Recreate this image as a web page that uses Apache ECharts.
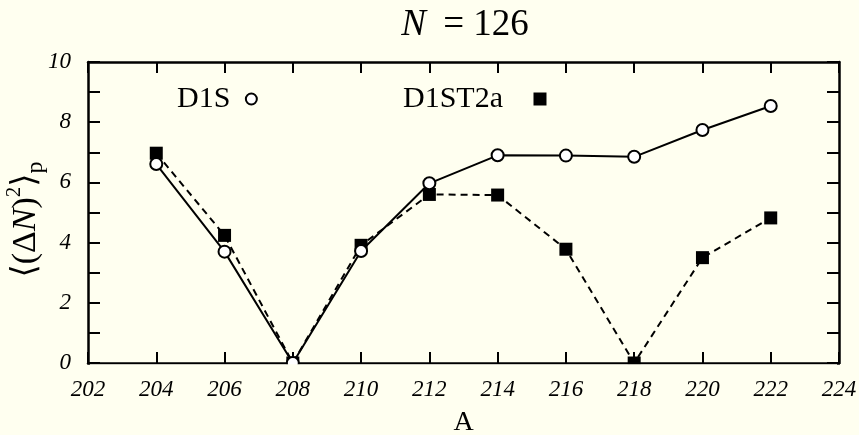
<!DOCTYPE html>
<html>
<head>
<meta charset="utf-8">
<script src="https://cdn.jsdelivr.net/npm/echarts@6/dist/echarts.min.js"></script>
<style>
  html, body { margin: 0; padding: 0; background: #fffff0; }
  #chart { width: 859px; height: 435px; }
</style>
</head>
<body>
<div id="chart"></div>
<script>
// Proton-number fluctuation along the N = 126 isotone chain
const massNumbers   = [204, 206, 208, 210, 212, 214, 216, 218, 220, 222];
const d1sValues     = [6.61, 3.70, 0.00, 3.72, 5.97, 6.90, 6.89, 6.85, 7.74, 8.54];
const d1st2aValues  = [6.97, 4.24, 0.00, 3.91, 5.60, 5.58, 3.78, 0.00, 3.50, 4.82];
const xRange = [202, 224];
const xStep  = 2;
const yRange = [0, 10];
const yStep  = 2;

const SERIF = "'Liberation Serif', 'DejaVu Serif', serif";
const BG = '#fffff0';
const INK = '#000';

const pairs = (xs, ys) => xs.map((x, i) => [x, ys[i]]);

const chart = echarts.init(document.getElementById('chart'), null, { renderer: 'canvas' });

const frameLine = { show: true, onZero: false, lineStyle: { color: INK, width: 2.5 } };
const tickStyle = { color: INK, width: 2 };

const option = {
  backgroundColor: BG,
  animation: false,
  title: {
    text: '{i|N}{t| = 126}',
    left: 460, textAlign: 'center',
    top: 2,
    textStyle: {
      fontWeight: 'normal',
      rich: {
        i: { fontFamily: SERIF, fontStyle: 'italic', fontWeight: 'normal', fontSize: 37, color: INK, padding: [0, 8, 0, 0] },
        t: { fontFamily: SERIF, fontWeight: 'normal', fontSize: 37, color: INK }
      }
    }
  },
  legend: [
    {
      data: ['D1S'],
      left: 172, top: 79,
      align: 'right',
      icon: 'circle',
      itemWidth: 32, itemHeight: 11,
      itemStyle: { color: '#fff', borderColor: INK, borderWidth: 2 },
      textStyle: { fontFamily: SERIF, fontSize: 30, color: INK },
      selectedMode: false
    },
    {
      data: ['D1ST2a'],
      left: 398, top: 79,
      align: 'right',
      icon: 'path://M0,0L10,0L10,10L0,10Z',
      itemWidth: 64, itemHeight: 13,
      itemStyle: { color: INK, borderWidth: 0 },
      textStyle: { fontFamily: SERIF, fontSize: 30, color: INK },
      selectedMode: false
    }
  ],
  grid: { left: 88, right: 20, top: 62, bottom: 72, containLabel: false, outerBoundsMode: 'none' },
  xAxis: [
    {
      type: 'value', position: 'bottom',
      min: xRange[0], max: xRange[1], interval: xStep,
      name: 'A', nameLocation: 'middle', nameGap: 46, nameMoveOverlap: false,
      nameTextStyle: { fontFamily: SERIF, fontSize: 28, color: INK },
      axisLine: frameLine,
      axisTick: { show: true, inside: true, length: 11, lineStyle: tickStyle },
      axisLabel: { fontFamily: SERIF, fontStyle: 'italic', fontSize: 23, color: INK, margin: 15 },
      splitLine: { show: false }
    },
    {
      type: 'value', position: 'top',
      min: xRange[0], max: xRange[1], interval: xStep,
      axisLine: frameLine,
      axisTick: { show: true, inside: true, length: 11, lineStyle: tickStyle },
      axisLabel: { show: false },
      splitLine: { show: false }
    }
  ],
  yAxis: [
    {
      type: 'value', position: 'left',
      min: yRange[0], max: yRange[1], interval: yStep,
      name: '{b|\u27E8(\u0394}{i|N}{b|)}{s|2}{b|\u27E9}{p|p}',
      nameLocation: 'middle', nameGap: 40, nameRotate: 90, nameMoveOverlap: false,
      nameTextStyle: {
        padding: [0, 14, 0, 0],
        rich: {
          b: { fontFamily: SERIF, fontSize: 34, color: INK, lineHeight: 44 },
          i: { fontFamily: SERIF, fontStyle: 'italic', fontSize: 34, color: INK, lineHeight: 44 },
          s: { fontFamily: SERIF, fontSize: 21, color: INK, verticalAlign: 'top', lineHeight: 44 },
          p: { fontFamily: SERIF, fontSize: 24, color: INK, verticalAlign: 'bottom', lineHeight: 36 }
        }
      },
      axisLine: frameLine,
      axisTick: { show: true, inside: true, length: 12, lineStyle: tickStyle },
      minorTick: { show: true, splitNumber: 2, length: 12, lineStyle: tickStyle },
      axisLabel: { fontFamily: SERIF, fontStyle: 'italic', fontSize: 23, color: INK, margin: 17 },
      splitLine: { show: false }
    },
    {
      type: 'value', position: 'right',
      min: yRange[0], max: yRange[1], interval: yStep,
      axisLine: frameLine,
      axisTick: { show: true, inside: true, length: 12, lineStyle: tickStyle },
      minorTick: { show: true, splitNumber: 2, length: 12, lineStyle: tickStyle },
      axisLabel: { show: false },
      splitLine: { show: false }
    }
  ],
  series: [
    {
      name: 'D1ST2a',
      type: 'line',
      xAxisIndex: 0, yAxisIndex: 0,
      data: pairs(massNumbers, d1st2aValues),
      symbol: 'rect', symbolSize: 13,
      itemStyle: { color: INK },
      lineStyle: { color: INK, width: 2, type: [7, 5] },
      z: 3
    },
    {
      name: 'D1S',
      type: 'line',
      xAxisIndex: 0, yAxisIndex: 0,
      data: pairs(massNumbers, d1sValues),
      symbol: 'circle', symbolSize: 12,
      itemStyle: { color: '#fff', borderColor: INK, borderWidth: 2 },
      lineStyle: { color: INK, width: 2 },
      z: 4
    }
  ]
};

chart.setOption(option);

// Mask the part of the markers that falls below the plot frame
const bl = chart.convertToPixel({ gridIndex: 0 }, [xRange[0], yRange[0]]);
const br = chart.convertToPixel({ gridIndex: 0 }, [xRange[1], yRange[0]]);
chart.setOption({
  graphic: [{
    type: 'rect', z: 100,
    shape: { x: bl[0] + 2, y: bl[1] + 1.3, width: br[0] - bl[0] - 4, height: 9 },
    style: { fill: BG }
  }]
});
</script>
</body>
</html>
